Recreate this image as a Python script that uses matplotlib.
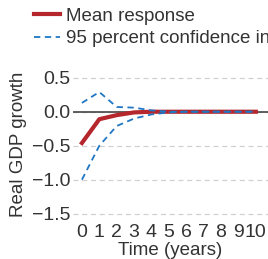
import matplotlib
matplotlib.use("Agg")
import matplotlib.pyplot as plt

years = list(range(11))
mean_resp = [-0.46, -0.11, -0.05, -0.01, 0.0, 0.0, 0.0, 0.0, 0.0, 0.0, 0.0]
upper_ci = [0.13, 0.29, 0.07, 0.06, 0.02, 0.0, 0.0, 0.0, 0.0, 0.0, 0.0]
lower_ci = [-1.0, -0.5, -0.21, -0.1, -0.04, -0.01, 0.0, 0.0, 0.0, 0.0, 0.0]
yticks = [0.5, 0.0, -0.5, -1.0, -1.5]

plt.rcParams['font.family'] = ['Liberation Sans', 'DejaVu Sans']
txt = '#333333'

fig = plt.figure(figsize=(2.68, 2.59), dpi=100)
ax = fig.add_axes([0.272, 0.162, 0.728, 0.564])

ax.axhline(0, color='#444444', lw=1.2, zorder=1)
l1, = ax.plot(years, mean_resp, color='#B5272D', lw=3, zorder=3, label='Mean response')
l2, = ax.plot(years, upper_ci, color='#1F77C4', lw=1.3, ls=(0, (3.5, 2.5)), zorder=4,
              label='95 percent confidence interval')
ax.plot(years, lower_ci, color='#1F77C4', lw=1.3, ls=(0, (3.5, 2.5)), zorder=4)

ax.set_xlim(-0.52, 10.7)
ax.set_ylim(-1.55, 0.6)
ax.set_yticks(yticks)
ax.set_yticklabels([f"{v:.1f}".replace('-', '\u2212') for v in yticks])
ax.set_xticks(years)
ax.tick_params(length=0, labelsize=14, colors=txt, pad=2)
ax.tick_params(axis='x', pad=5)
ax.grid(axis='y', color='#d0d0d0', ls=(0, (4, 3)), lw=0.9)
ax.set_axisbelow(True)
for s in ax.spines.values():
    s.set_visible(False)
ax.set_xlabel('Time (years)', fontsize=13.5, color=txt, labelpad=1)
ax.set_ylabel('Real GDP growth', fontsize=13.5, color=txt, labelpad=3)

fig.legend(handles=[l1, l2], loc='upper left', bbox_to_anchor=(0.099, 1.0),
           frameon=False, fontsize=13.5, labelcolor=txt, handlelength=1.4,
           handletextpad=0.3, borderaxespad=0, labelspacing=0.3)

fig.savefig('out.png', dpi=100)
